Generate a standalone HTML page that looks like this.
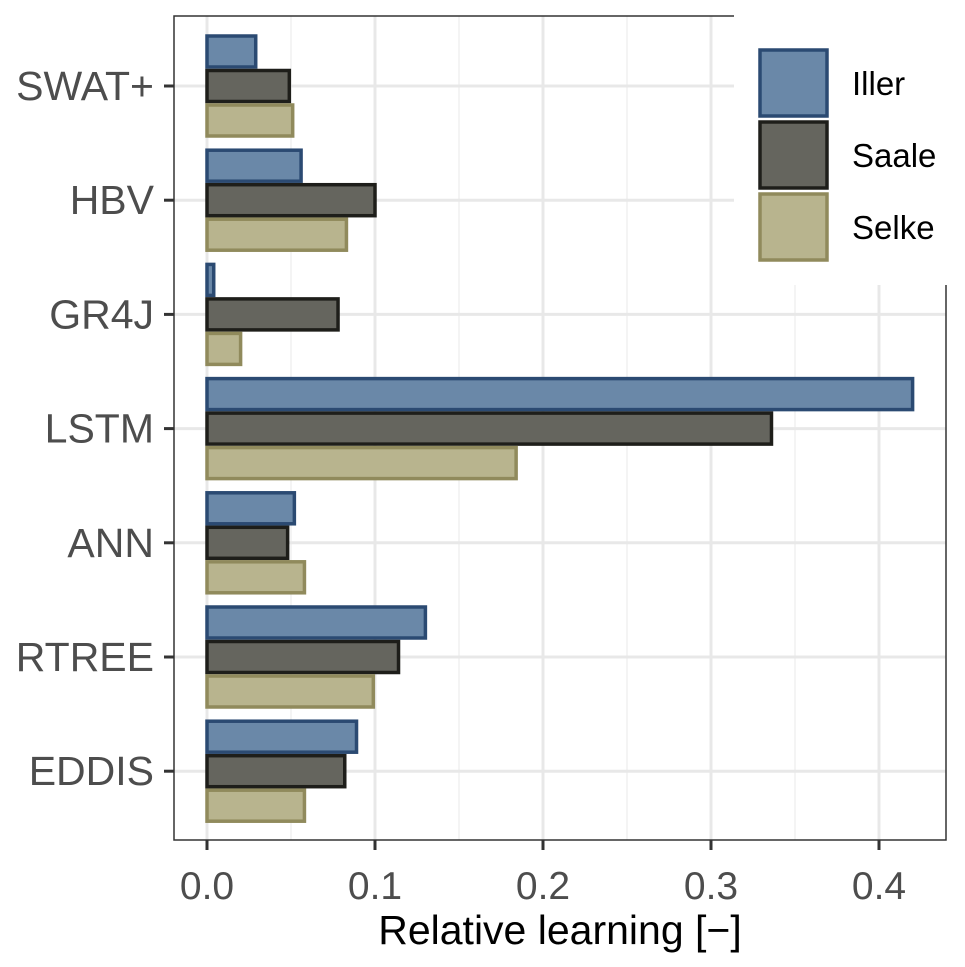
<!DOCTYPE html>
<html><head><meta charset="utf-8"><style>
body{margin:0;background:#fff;}
svg{display:block;font-family:"Liberation Sans",Arial,sans-serif;}
</style></head><body>
<svg id="chart" width="965" height="967">
<g id="grid"></g><g id="bars"></g><g id="axes"></g><g id="legend"></g>
</svg>
<script>
const categories=["SWAT+","HBV","GR4J","LSTM","ANN","RTREE","EDDIS"];
const series=["Iller","Saale","Selke"];
const iller=[0.029,0.056,0.004,0.420,0.052,0.130,0.089];
const saale=[0.049,0.100,0.078,0.336,0.048,0.114,0.082];
const selke=[0.051,0.083,0.020,0.184,0.058,0.099,0.058];
const xTicks=[0,0.1,0.2,0.3,0.4];
const xTickLabels=["0.0","0.1","0.2","0.3","0.4"];
const xMinor=[0.05,0.15,0.25,0.35];
const values=[iller,saale,selke];
const fills=["#6a88a8","#65655e","#b8b48e"];
const strokes=["#2b4a72","#1e1e1a","#908a5c"];
const NS="http://www.w3.org/2000/svg";
const L=174,R=946,T=16,B=840;
const x=v=>207+v*1680;
const y=i=>86+i*114.2;
function mk(p,tag,at){const e=document.createElementNS(NS,tag);for(const k in at)e.setAttribute(k,at[k]);p.appendChild(e);return e;}
const grid=document.getElementById('grid'),bars=document.getElementById('bars'),axes=document.getElementById('axes'),leg=document.getElementById('legend');
xMinor.forEach(v=>{const l=mk(grid,'line',{x1:x(v),x2:x(v),y1:T,y2:B,stroke:'#f0f0f0','stroke-width':1.5});

});
xTicks.forEach(v=>{const l=mk(grid,'line',{x1:x(v),x2:x(v),y1:T,y2:B,stroke:'#e8e8e8','stroke-width':3});

});
categories.forEach((c,i)=>{const l=mk(grid,'line',{x1:L,x2:R,y1:y(i),y2:y(i),stroke:'#e8e8e8','stroke-width':3});

});
categories.forEach((c,i)=>{
 values.forEach((arr,s)=>{
  const top=y(i)-50+s*34.5;
  const r=mk(bars,'rect',{x:x(0),y:top,width:Math.max(0,x(arr[i])-x(0)),height:31,fill:fills[s],stroke:strokes[s],'stroke-width':3.5});
  
  
 });
 const t=mk(axes,'line',{x1:L-10,x2:L,y1:y(i),y2:y(i),stroke:'#333','stroke-width':3});
 
 
 const lb=mk(axes,'text',{x:L-20,y:y(i)+14,'text-anchor':'end','font-size':41,fill:'#4d4d4d'});lb.textContent=c;
 
 
});
const frame=mk(axes,'rect',{x:L,y:T,width:R-L,height:B-T,fill:'none',stroke:'#333','stroke-width':1.5});


xTicks.forEach((v,k)=>{const t=mk(axes,'line',{x1:x(v),x2:x(v),y1:B,y2:B+10,stroke:'#333','stroke-width':3});


const lb=mk(axes,'text',{x:x(v),y:B+59,'text-anchor':'middle','font-size':39,fill:'#4d4d4d'});lb.textContent=xTickLabels[k];

});
const xt=mk(axes,'text',{x:560,y:944,'text-anchor':'middle','font-size':41,fill:'#000'});xt.textContent="Relative learning [−]";


const bg=mk(leg,'rect',{x:734,y:0,width:231,height:285,fill:'#fff'});


series.forEach((s,k)=>{const r=mk(leg,'rect',{x:760,y:50+k*72,width:67,height:66,fill:fills[k],stroke:strokes[k],'stroke-width':3.5});


const t=mk(leg,'text',{x:852,y:95+k*72,'font-size':33,fill:'#000'});t.textContent=s;

});
</script>
</body></html>
